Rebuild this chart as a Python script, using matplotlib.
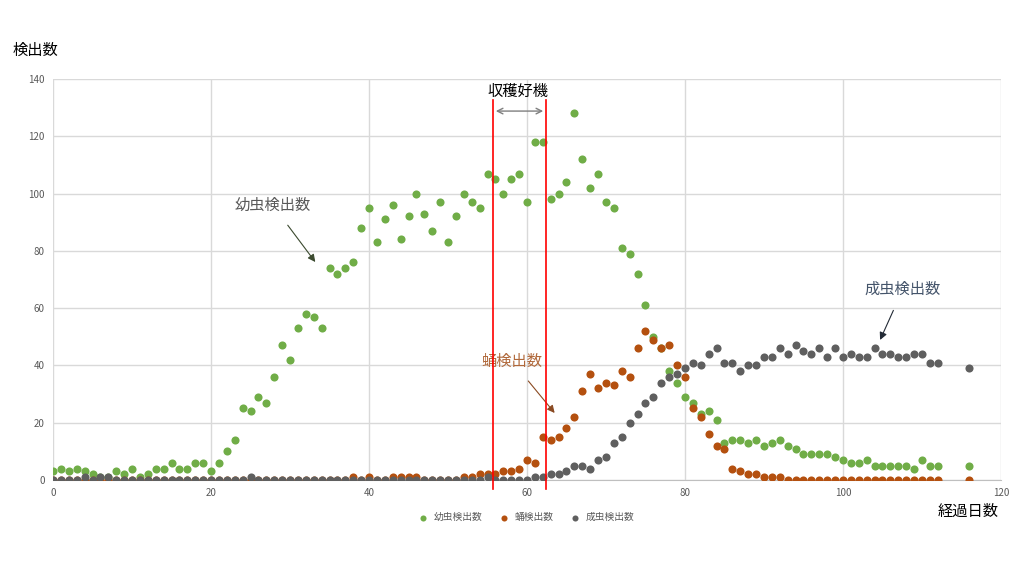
import matplotlib
matplotlib.use('Agg')
import matplotlib.pyplot as plt

plt.rcParams['font.family'] = ['Noto Sans CJK JP', 'DejaVu Sans']

# days 0..112 and 116
days = list(range(0, 113)) + [116]

larva = [3, 4, 3, 4, 3, 2, 1, 1, 3, 2,
         4, 1, 2, 4, 4, 6, 4, 4, 6, 6,
         3, 6, 10, 14, 25, 24, 29, 27, 36, 47,
         42, 53, 58, 57, 53, 74, 72, 74, 76, 88,
         95, 83, 91, 96, 84, 92, 100, 93, 87, 97,
         83, 92, 100, 97, 95, 107, 105, 100, 105, 107,
         97, 118, 118, 98, 100, 104, 128, 112, 102, 107,
         97, 95, 81, 79, 72, 61, 50, 46, 38, 34,
         29, 27, 23, 24, 21, 13, 14, 14, 13, 14,
         12, 13, 14, 12, 11, 9, 9, 9, 9, 8,
         7, 6, 6, 7, 5, 5, 5, 5, 5, 4,
         7, 5, 5, 5]

pupa = [0, 0, 0, 0, 0, 0, 0, 0, 0, 0,
        0, 0, 0, 0, 0, 0, 0, 0, 0, 0,
        0, 0, 0, 0, 0, 0, 0, 0, 0, 0,
        0, 0, 0, 0, 0, 0, 0, 0, 1, 0,
        1, 0, 0, 1, 1, 1, 1, 0, 0, 0,
        0, 0, 1, 1, 2, 2, 2, 3, 3, 4,
        7, 6, 15, 14, 15, 18, 22, 31, 37, 32,
        34, 33, 38, 36, 46, 52, 49, 46, 47, 40,
        36, 25, 22, 16, 12, 11, 4, 3, 2, 2,
        1, 1, 1, 0, 0, 0, 0, 0, 0, 0,
        0, 0, 0, 0, 0, 0, 0, 0, 0, 0,
        0, 0, 0, 0]

adult = [0, 0, 0, 0, 1, 0, 1, 1, 0, 0,
         0, 0, 0, 0, 0, 0, 0, 0, 0, 0,
         0, 0, 0, 0, 0, 1, 0, 0, 0, 0,
         0, 0, 0, 0, 0, 0, 0, 0, 0, 0,
         0, 0, 0, 0, 0, 0, 0, 0, 0, 0,
         0, 0, 0, 0, 0, 1, 0, 0, 0, 0,
         0, 1, 1, 2, 2, 3, 5, 5, 4, 7,
         8, 13, 15, 20, 23, 27, 29, 34, 36, 37,
         39, 41, 40, 44, 46, 41, 41, 38, 40, 40,
         43, 43, 46, 44, 47, 45, 44, 46, 43, 46,
         43, 44, 43, 43, 46, 44, 44, 43, 43, 44,
         44, 41, 41, 39]

series_names = ['幼虫検出数', '蛹検出数', '成虫検出数']
colors = ['#70ad47', '#b4500f', '#5f5f5f']
window = [55.7, 62.4]  # harvest window (red lines)

fig = plt.figure(figsize=(10.24, 5.72), dpi=100)
ax = fig.add_axes([0.0518, 0.1608, 0.9257, 0.7011])

for vals, name, c in zip([larva, pupa, adult], series_names, colors):
    ax.scatter(days, vals, s=34, color=c, label=name, zorder=3, linewidths=0)

ax.set_xlim(0, 120)
ax.set_ylim(0, 140)
ax.set_xticks(range(0, 121, 20))
ax.set_yticks(range(0, 141, 20))
ax.grid(color='#d9d9d9', linewidth=1)
ax.set_axisbelow(True)
for s in ['top', 'right', 'left']:
    ax.spines[s].set_visible(False)
ax.spines['bottom'].set_color('#bfbfbf')
ax.tick_params(length=0, labelsize=7, labelcolor='#595959', pad=6)

# harvest window
for xv in window:
    ax.plot([xv, xv], [-3, 132.7], color='red', lw=1.2, zorder=4, clip_on=False)
ax.annotate('', xy=(window[0], 128.8), xytext=(window[1], 128.8),
            arrowprops=dict(arrowstyle='<->', color='#7f7f7f', lw=1))
ax.text(58.9, 135.8, '収穫好機', ha='center', va='center', fontsize=11, color='black')

# series annotations
ax.annotate('幼虫検出数', xy=(33.2, 76.1), xytext=(27.8, 96), ha='center', va='center',
            fontsize=11, color='#595959',
            arrowprops=dict(arrowstyle='-|>', color='#3b4a2f', lw=0.8, shrinkA=8, shrinkB=0))
ax.annotate('成虫検出数', xy=(104.7, 48.9), xytext=(107.6, 66.7), ha='center', va='center',
            fontsize=11, color='#44546a',
            arrowprops=dict(arrowstyle='-|>', color='#222a35', lw=0.8, shrinkA=8, shrinkB=0))
ax.annotate('蛹検出数', xy=(63.5, 23.4), xytext=(58.1, 41.5), ha='center', va='center',
            fontsize=11, color='#b0683a',
            arrowprops=dict(arrowstyle='-|>', color='#8a4a22', lw=0.8, shrinkA=8, shrinkB=0))

fig.text(35 / 1024, 1 - 50 / 572, '検出数', ha='center', va='center', fontsize=11)
fig.text(968 / 1024, 1 - 511 / 572, '経過日数', ha='center', va='center', fontsize=11)

fig.legend(loc='center', bbox_to_anchor=(0.512, 0.096), ncol=3, frameon=False,
           fontsize=7, labelcolor='#595959', handletextpad=0.1, columnspacing=1.2,
           markerscale=0.75)

fig.savefig('out.png', dpi=100)
